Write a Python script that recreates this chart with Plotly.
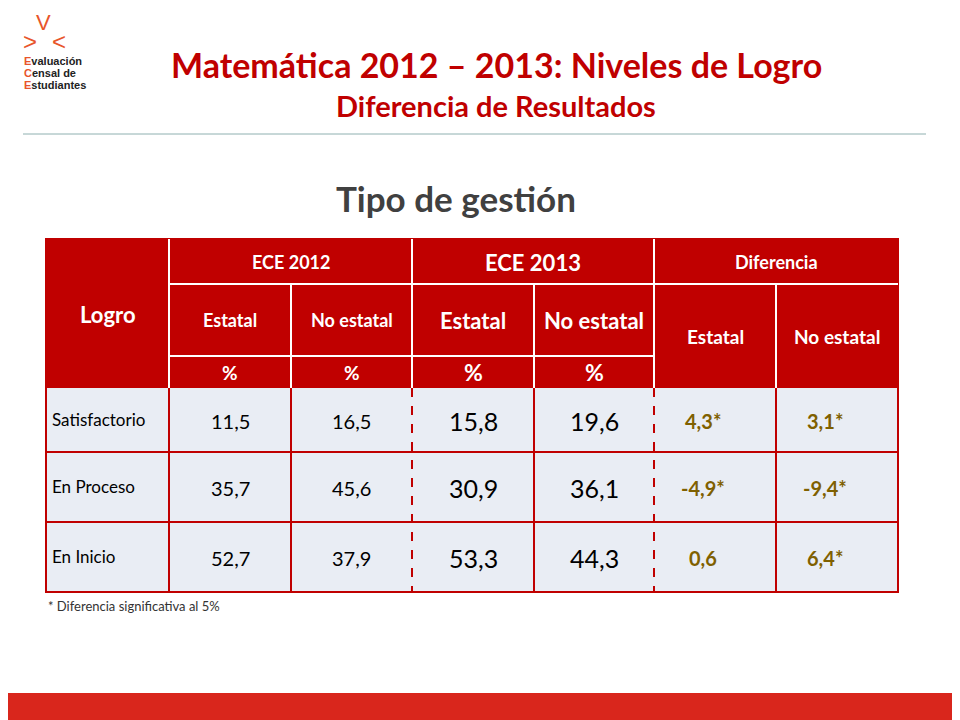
import plotly.graph_objects as go

levels = ["Satisfactorio", "En Proceso", "En Inicio"]
ece2012_estatal = ["11,5", "35,7", "52,7"]
ece2012_noestatal = ["16,5", "45,6", "37,9"]
ece2013_estatal = ["15,8", "30,9", "53,3"]
ece2013_noestatal = ["19,6", "36,1", "44,3"]
dif_estatal = ["4,3*", "-4,9*", "0,6"]
dif_noestatal = ["3,1*", "-9,4*", "6,4*"]

RED = "#C00000"
xs = [45, 168, 290, 411, 533, 653, 775, 897]
ys = [238, 283, 355, 387, 451, 521, 591]
F = "Lato"

fig = go.Figure()
shapes, ann = [], []

def rect(x0, y0, x1, y1, fill, lc=None, lw=0):
    shapes.append(dict(type="rect", x0=x0, x1=x1, y0=y0, y1=y1, fillcolor=fill,
                       line=dict(color=lc or fill, width=lw), layer="below"))

def line(x0, y0, x1, y1, c, w=2, dash="solid"):
    shapes.append(dict(type="line", x0=x0, x1=x1, y0=y0, y1=y1, line=dict(color=c, width=w, dash=dash)))

def txt(x, y, s, size, color="black", bold=False, anchor="center", fam=F):
    ann.append(dict(x=x, y=y, text=f"<b>{s}</b>" if bold else s, showarrow=False,
                    font=dict(family=fam, size=size, color=color), xanchor=anchor, yanchor="middle"))

rect(xs[0], ys[0], xs[-1], ys[3], RED)
rect(xs[0], ys[3], xs[-1], ys[6], "#E9EDF4")
for x in xs[1:6]:
    line(x, ys[0] if x in (168, 411, 653) else ys[1], x, ys[3], "white", 2)
line(xs[6], ys[1], xs[6], ys[3], "white", 2)
line(xs[1], ys[1], xs[-1], ys[1], "white", 2)
line(xs[1], ys[2], xs[5], ys[2], "white", 2)
for x in xs[1:7]:
    dash = "dash" if x in (411, 653) else "solid"
    line(x, ys[3], x, ys[6], RED, 2, dash)
for y in ys[4:6]:
    line(xs[0], y, xs[-1], y, RED, 2)
rect(xs[0], ys[0], xs[-1], ys[6], "rgba(0,0,0,0)", RED, 2)

txt((xs[0]+xs[1])/2, 313, "Logro", 22, "white", True)
txt((xs[1]+xs[3])/2, 261, "ECE 2012", 18, "white", True)
txt((xs[3]+xs[5])/2, 261, "ECE 2013", 22, "white", True)
txt((xs[5]+xs[7])/2, 261, "Diferencia", 18, "white", True)
for k, sz in enumerate([18, 18, 22, 22]):
    txt((xs[1+k]+xs[2+k])/2, 319, ["Estatal", "No estatal", "Estatal", "No estatal"][k], sz, "white", True)
    txt((xs[1+k]+xs[2+k])/2, 371, "%", sz+1, "white", True)
txt((xs[5]+xs[6])/2, 335, "Estatal", 19, "white", True)
txt((xs[6]+xs[7])/2, 335, "No estatal", 19, "white", True)

cols = [ece2012_estatal, ece2012_noestatal, ece2013_estatal, ece2013_noestatal]
for r, lev in enumerate(levels):
    yc = (ys[3+r]+ys[4+r])/2
    txt(xs[0]+4, yc-1, lev, 17, "black", anchor="left")
    for k, col in enumerate(cols):
        txt((xs[1+k]+xs[2+k])/2, yc+1, col[r], 20 if k < 2 else 25)
    txt((xs[5]+xs[6])/2 - 12, yc+1, dif_estatal[r], 20, "#7F6000", True)
    txt((xs[6]+xs[7])/2 - 12, yc+1, dif_noestatal[r], 20, "#7F6000", True)

txt(45, 605, "* Diferencia significativa al 5%", 13, "#333", anchor="left")
txt(455, 197, "Tipo de gestión", 35, "#404040", True)
txt(495, 63, "Matemática 2012 – 2013: Niveles de Logro", 34, RED, True)
txt(495, 104, "Diferencia de Resultados", 29, RED, True)
line(22, 133, 925, 133, "#8FB0B0", 1)
rect(-10, 692, 980, 740, "#D9261C")

# logo
txt(42, 21, "V", 22, "#E8552B", fam="Liberation Sans")
txt(29, 40, "&gt;", 24, "#E8552B", fam="Liberation Sans")
txt(58, 40, "&lt;", 24, "#E8552B", fam="Liberation Sans")
for i, (a, b) in enumerate([("E", "valuación"), ("C", "ensal de"), ("E", "studiantes")]):
    ann.append(dict(x=21, y=60+i*12, xanchor="left", yanchor="middle", showarrow=False,
                    text=f"<b><span style='color:#E8552B'>{a}</span>{b}</b>",
                    font=dict(family="Liberation Sans Narrow, Liberation Sans", size=11, color="#222")))

fig.update_layout(width=960, height=720, margin=dict(l=0, r=0, t=0, b=0),
                  plot_bgcolor="white", paper_bgcolor="white", shapes=shapes, annotations=ann,
                  xaxis=dict(range=[7, 967], visible=False, fixedrange=True),
                  yaxis=dict(range=[727, 7], visible=False, fixedrange=True), showlegend=False)
fig.write_html("out.html")
